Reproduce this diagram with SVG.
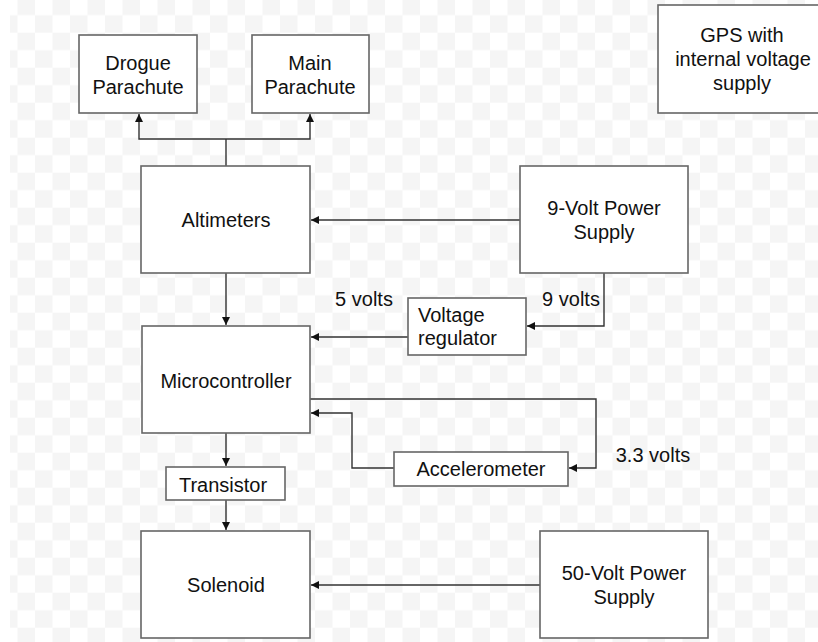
<svg xmlns="http://www.w3.org/2000/svg" width="818" height="642" viewBox="0 0 818 642">
  <defs>
    <pattern id="checker" x="0" y="-2.3" width="35" height="35" patternUnits="userSpaceOnUse">
      <rect width="35" height="35" fill="#ffffff"/>
      <rect x="17.5" y="0" width="17.5" height="17.5" fill="#f5f5f5"/>
      <rect x="0" y="17.5" width="17.5" height="17.5" fill="#f5f5f5"/>
    </pattern>
    <marker id="arrow" viewBox="0 0 10 10" refX="10" refY="5" markerWidth="8" markerHeight="8" markerUnits="userSpaceOnUse" orient="auto">
      <path d="M0,0 L10,5 L0,10 Z" fill="#111"/>
    </marker>
  </defs>
  <style>
    .box { fill: #ffffff; stroke: #666666; stroke-width: 1.6; }
    .lbl { font-family: "Liberation Sans", Arial, sans-serif; font-size: 20px; fill: #111111; text-anchor: middle; }
    .wire { fill: none; stroke: #333333; stroke-width: 1.4; }
    .arr { marker-end: url(#arrow); }
  </style>

  <!-- background -->
  <rect x="0" y="0" width="818" height="642" fill="url(#checker)"/>
  <rect x="0" y="0" width="10" height="642" fill="#ffffff"/>

  <!-- connectors -->
  <g id="connectors">
    <!-- altimeters fan out to both parachutes -->
    <path class="wire" d="M226,166 V139"/>
    <path class="wire arr" d="M226,139 H139 V114"/>
    <path class="wire arr" d="M226,139 H310 V114"/>
    <!-- 9 V supply to altimeters -->
    <path class="wire arr" d="M520,220 H311"/>
    <!-- altimeters to microcontroller -->
    <path class="wire arr" d="M226,273 V325"/>
    <!-- 9 V supply to voltage regulator -->
    <path class="wire arr" d="M604,273 V326 H527"/>
    <!-- regulator to microcontroller -->
    <path class="wire arr" d="M408,337 H311"/>
    <!-- microcontroller 3.3 V out to accelerometer -->
    <path class="wire arr" d="M310,399 H596 V468 H569"/>
    <!-- accelerometer back to microcontroller -->
    <path class="wire arr" d="M394,468 H352 V413 H311"/>
    <!-- microcontroller to transistor to solenoid -->
    <path class="wire arr" d="M226,433 V466"/>
    <path class="wire arr" d="M226,500 V530"/>
    <!-- 50 V supply to solenoid -->
    <path class="wire arr" d="M540,585 H311"/>
  </g>

  <g id="drogue">
    <rect class="box" x="79" y="35" width="118" height="78"/>
    <text class="lbl" x="138" y="70">Drogue</text>
    <text class="lbl" x="138" y="94">Parachute</text>
  </g>

  <g id="main">
    <rect class="box" x="252" y="35" width="117" height="78"/>
    <text class="lbl" x="310" y="70">Main</text>
    <text class="lbl" x="310" y="94">Parachute</text>
  </g>

  <g id="gps">
    <rect class="box" x="658" y="5" width="166" height="108"/>
    <text class="lbl" x="742" y="42">GPS with</text>
    <text class="lbl" x="743" y="66">internal voltage</text>
    <text class="lbl" x="742" y="90">supply</text>
  </g>

  <g id="altimeters">
    <rect class="box" x="141" y="166" width="169" height="107"/>
    <text class="lbl" x="226" y="227">Altimeters</text>
  </g>

  <g id="supply9">
    <rect class="box" x="520" y="166" width="168" height="107"/>
    <text class="lbl" x="604" y="215">9-Volt Power</text>
    <text class="lbl" x="604" y="239">Supply</text>
  </g>

  <g id="label5v">
    <text class="lbl" x="364" y="306">5 volts</text>
  </g>
  <g id="label9v">
    <text class="lbl" x="571" y="306">9 volts</text>
  </g>

  <g id="regulator">
    <rect class="box" x="408" y="298" width="118" height="57"/>
    <text class="lbl" x="418" y="322" text-anchor="start" style="text-anchor:start">Voltage</text>
    <text class="lbl" x="418" y="345" style="text-anchor:start">regulator</text>
  </g>

  <g id="microcontroller">
    <rect class="box" x="142" y="326" width="168" height="107"/>
    <text class="lbl" x="226" y="388">Microcontroller</text>
  </g>

  <g id="accelerometer">
    <rect class="box" x="394" y="452" width="174" height="34"/>
    <text class="lbl" x="481" y="476">Accelerometer</text>
  </g>

  <g id="label33v">
    <text class="lbl" x="653" y="462">3.3 volts</text>
  </g>

  <g id="transistor">
    <rect class="box" x="166" y="467" width="119" height="33"/>
    <text class="lbl" x="223" y="492">Transistor</text>
  </g>

  <g id="solenoid">
    <rect class="box" x="141" y="531" width="169" height="107"/>
    <text class="lbl" x="226" y="592">Solenoid</text>
  </g>

  <g id="supply50">
    <rect class="box" x="540" y="531" width="168" height="107"/>
    <text class="lbl" x="624" y="580">50-Volt Power</text>
    <text class="lbl" x="624" y="604">Supply</text>
  </g>
</svg>
